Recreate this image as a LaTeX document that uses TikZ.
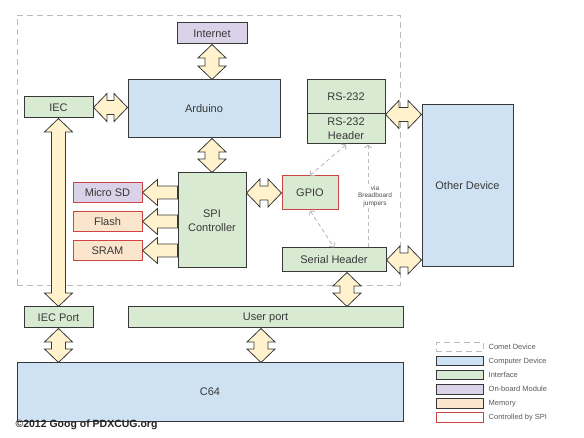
\documentclass[tikz,border=0pt]{standalone}
\usepackage{fontspec}
\setmainfont{Liberation Sans}
\usetikzlibrary{positioning, calc, arrows.meta}
\definecolor{linegray}{HTML}{383838}
\definecolor{computerblue}{HTML}{CFE2F3}
\definecolor{interfacegreen}{HTML}{D9EAD3}
\definecolor{modulepurple}{HTML}{D9D2E9}
\definecolor{memoryorange}{HTML}{FCE5CD}
\definecolor{arrowfill}{HTML}{FFF2CC}
\definecolor{spired}{HTML}{CC4444}
\definecolor{dashgray}{HTML}{BBBBBB}
\tikzset{
    box/.style={draw=linegray, line width=1pt, text=linegray, align=center, font=\fontsize{11}{14}\selectfont}, % every block of the sketch
    computer/.style={box, fill=computerblue}, % computer device
    interface/.style={box, fill=interfacegreen}, % interface
    module/.style={box, fill=modulepurple}, % on-board module
    memory/.style={box, fill=memoryorange}, % memory
    spionly/.style={box, draw=spired, fill=white}, % controlled by SPI (legend only)
    comet/.style={draw=dashgray, line width=0.9pt, dash pattern=on 6pt off 4pt}, % the comet device outline
    along/.style={shift={(\p1)}, rotate=\n1}, % local frame of a fat arrow
    bothway/.style={draw=linegray, fill=arrowfill, line width=0.8pt, % fat double arrow
        to path={let \p1=(\tikztostart), \p2=(\tikztotarget), \n1={atan2(\y2-\y1,\x2-\x1)}, \n2={veclen(\x2-\x1,\y2-\y1)} in
            ([along]0pt,0pt) -- ([along]13.5pt,14pt) -- ([along]13.5pt,7pt) -- ([along]\n2-13.5pt,7pt) -- ([along]\n2-13.5pt,14pt)
            -- ([along]\n2,0pt) -- ([along]\n2-13.5pt,-14pt) -- ([along]\n2-13.5pt,-7pt) -- ([along]13.5pt,-7pt) -- ([along]13.5pt,-14pt) -- cycle}},
    oneway/.style={draw=linegray, fill=arrowfill, line width=0.8pt, % fat single arrow
        to path={let \p1=(\tikztostart), \p2=(\tikztotarget), \n1={atan2(\y2-\y1,\x2-\x1)}, \n2={veclen(\x2-\x1,\y2-\y1)} in
            ([along]0pt,6.5pt) -- ([along]\n2-15pt,6.5pt) -- ([along]\n2-15pt,13pt) -- ([along]\n2,0pt)
            -- ([along]\n2-15pt,-13pt) -- ([along]\n2-15pt,-6.5pt) -- ([along]0pt,-6.5pt) -- cycle}},
    jumper/.style={draw=dashgray, line width=0.9pt, dash pattern=on 4pt off 3pt}, % breadboard wires
    legendkey/.style={minimum width=47pt, minimum height=9.5pt, inner sep=0pt}, % legend swatch
    legendtext/.style={text=black!65, inner sep=0pt, font=\fontsize{7.5}{9}\selectfont}, % legend words
}
\begin{document}
\begin{tikzpicture}[x=1pt, y=-1pt]
    \useasboundingbox (0,0) rectangle (584,438);
    \node[comet, minimum width=383pt, minimum height=270pt] (cometdev) at (208.5,150) {};
    \node[module, minimum width=70pt, minimum height=21pt] (internet) at (212,33.5) {Internet};
    \node[computer, minimum width=152pt, minimum height=58pt] (arduino) at (204,109) {Arduino};
    \node[interface, minimum width=69pt, minimum height=21pt] (iec) at (58.5,107.5) {IEC};
    \node[interface, minimum width=68pt, minimum height=95pt] (spi) at (212,220.5) {SPI\\Controller};
    \node[module, draw=spired, minimum width=69pt, minimum height=20pt] (msd) at (107.5,192.5) {Micro SD};
    \node[memory, draw=spired, minimum width=69pt, minimum height=20pt, below=8pt of msd] (flash) {Flash};
    \node[memory, draw=spired, minimum width=69pt, minimum height=20pt, below=8pt of flash] (sram) {SRAM};
    \node[interface, draw=spired, minimum width=56pt, minimum height=34pt] (gpio) at (310,193) {GPIO};
    \node[interface, minimum width=78pt, minimum height=34pt] (rs232) at (346,97) {RS-232};
    \node[interface, minimum width=78pt, minimum height=30pt, below=-1pt of rs232] (rsheader) {RS-232\\Header};
    \node[computer, minimum width=91pt, minimum height=162pt] (other) at (467.5,186) {Other Device};
    \node[interface, minimum width=104pt, minimum height=24pt] (serial) at (334,260) {Serial Header};
    \node[interface, minimum width=69pt, minimum height=21pt] (iecport) at (58.5,317.5) {IEC Port};
    \node[interface, minimum width=275pt, minimum height=21pt] (userport) at (265.5,317.5) {User port};
    \node[computer, minimum width=386pt, minimum height=58pt] (c64) at (210,392) {C64};

    \draw (internet.south) edge[bothway] (internet.south |- arduino.north)
          (iec.east) edge[bothway] (iec.east -| arduino.west)
          (spi.north |- arduino.south) edge[bothway] (spi.north)
          (iecport.north) edge[bothway] (iec.south)
          (spi.east |- gpio.west) edge[bothway] (gpio.west)
          (rs232.south east) edge[bothway] (rs232.south east -| other.west)
          (serial.east) edge[bothway] (serial.east -| other.west)
          ([xshift=13pt]serial.south) edge[bothway] ([xshift=13pt]serial.south |- userport.north)
          (iecport.south) edge[bothway] (iecport.south |- c64.north)
          ([xshift=-4.5pt]userport.south) edge[bothway] ([xshift=-4.5pt]userport.south |- c64.north)
          (spi.west |- sram.east) edge[oneway] (sram.east)
          (spi.west |- flash.east) edge[oneway] (flash.east)
          (spi.west |- msd.east) edge[oneway] (msd.east);

    \draw[jumper, {Straight Barb[length=3pt,width=7pt]}-{Straight Barb[length=3pt,width=7pt]}] (rsheader.south) -- (gpio.north);
    \draw[jumper, {Straight Barb[length=3pt,width=7pt]}-{Straight Barb[length=3pt,width=7pt]}] (gpio.south) -- (serial.north);
    \draw[jumper, -{Straight Barb[length=3pt,width=7pt]}] ([xshift=34pt]serial.north) -- ([xshift=34pt]serial.north |- rsheader.south)
        node[pos=0.5, xshift=7pt, fill=white, inner sep=1pt, align=center, text=black!70, font=\fontsize{6.5}{7.5}\selectfont] (via) {via\\Breadboard\\jumpers};

    \foreach \kind/\what [count=\i from 0] in {comet/Comet Device, computer/Computer Device, interface/Interface, module/On-board Module, memory/Memory, spionly/Controlled by SPI}{
        \node[\kind, legendkey] (key\i) at (459.5,347+14.1*\i) {};
        \node[legendtext, right=5pt of key\i] (keytext\i) {\what};
    }
    \node[anchor=west, text=black!85, font=\bfseries\fontsize{10.5}{12}\selectfont] (credit) at (12,424.5) {©2012 Goog of PDXCUG.org};
\end{tikzpicture}
\end{document}
